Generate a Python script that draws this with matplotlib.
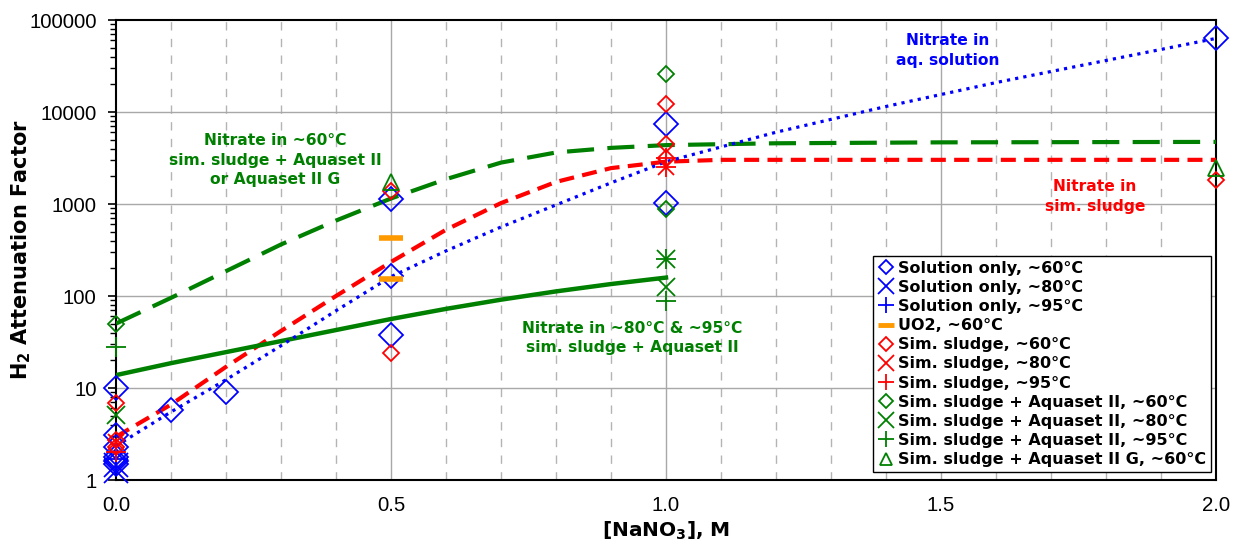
import numpy as np
import matplotlib
matplotlib.use("Agg")
import matplotlib.pyplot as plt
from matplotlib.lines import Line2D

# ---------------- data ----------------
# Solution only
sol60_x = [0, 0, 0, 0, 0, 0, 0.1, 0.2, 0.5, 0.5, 0.5, 1.0, 1.0, 2.0]
sol60_y = [10, 3.1, 2.3, 1.8, 1.6, 1.5, 5.8, 9.0, 1140, 165, 37.8, 7400, 1030, 63500]
sol80_x = [0, 0]
sol80_y = [1.25, 1.45]
sol95_x = [0]
sol95_y = [1.7]
# UO2
uo2_x = [0.5, 0.5]
uo2_y = [427, 153]
# Simulated sludge
sl60_x = [0, 0, 0, 0.5, 0.5, 1.0, 1.0, 1.0, 2.0]
sl60_y = [6.9, 2.7, 2.3, 24, 1390, 12100, 4520, 3200, 1830]
sl80_x = [0, 1.0]
sl80_y = [2.6, 2540]
sl95_x = [0, 1.0, 1.0]
sl95_y = [2.0, 3200, 2540]
# Simulated sludge + Aquaset II
aq60_x = [0, 1.0, 1.0]
aq60_y = [50, 25800, 880]
aq80_x = [0, 1.0, 1.0]
aq80_y = [5.1, 253, 125]
aq95_x = [0, 1.0, 1.0]
aq95_y = [28, 253, 88]
aqg60_x = [0.5, 2.0]
aqg60_y = [1740, 2480]

# fitted trend curves (log10 of attenuation factor)
aq_curve_x = [0, 0.1, 0.2, 0.3, 0.4, 0.5, 0.6, 0.7, 0.8, 0.9, 1.0, 1.2, 1.5, 2.0]
aq_curve_log = [1.70, 1.98, 2.27, 2.56, 2.82, 3.06, 3.27, 3.45, 3.56, 3.61, 3.64, 3.66, 3.67, 3.675]
sl_curve_x = [0, 0.1, 0.2, 0.3, 0.4, 0.5, 0.6, 0.7, 0.8, 0.9, 1.0, 1.1, 1.2, 2.0]
sl_curve_log = [0.47, 0.82, 1.23, 1.62, 2.00, 2.37, 2.72, 3.01, 3.24, 3.39, 3.46, 3.48, 3.48, 3.48]
aqhot_curve_x = [0, 0.1, 0.2, 0.3, 0.4, 0.5, 0.6, 0.7, 0.8, 0.9, 1.0]
aqhot_curve_log = [1.14, 1.27, 1.39, 1.51, 1.63, 1.75, 1.86, 1.96, 2.05, 2.13, 2.20]
sol_curve_x = [0, 0.1, 0.2, 0.3, 0.4, 0.5, 0.6, 0.7, 0.8, 0.9, 1.0, 1.2, 1.4, 1.6, 1.8, 2.0]
sol_curve_log = [0.37, 0.74, 1.09, 1.46, 1.84, 2.21, 2.49, 2.75, 2.99, 3.23, 3.46, 3.78, 4.06, 4.32, 4.56, 4.80]

x_ticks = [0.0, 0.5, 1.0, 1.5, 2.0]
x_ticklabels = ["0.0", "0.5", "1.0", "1.5", "2.0"]
y_ticks = [1, 10, 100, 1000, 10000, 100000]
y_ticklabels = ["1", "10", "100", "1000", "10000", "100000"]

legend_labels = [
    "Solution only, ~60°C", "Solution only, ~80°C", "Solution only, ~95°C",
    "UO2, ~60°C", "Sim. sludge, ~60°C", "Sim. sludge, ~80°C", "Sim. sludge, ~95°C",
    "Sim. sludge + Aquaset II, ~60°C", "Sim. sludge + Aquaset II, ~80°C",
    "Sim. sludge + Aquaset II, ~95°C", "Sim. sludge + Aquaset II G, ~60°C",
]

BLUE = "#0000FF"
RED = "#FF0000"
GREEN = "#008000"
ORANGE = "#FF9900"

plt.rcParams["font.family"] = ["DejaVu Sans"]
plt.rcParams["mathtext.fontset"] = "dejavusans"

fig = plt.figure(figsize=(12.35, 5.5), dpi=100)
ax = fig.add_axes([116 / 1235, 1 - 480 / 550, 1100 / 1235, 460 / 550])
ax.set_yscale("log")
ax.set_xlim(0, 2.0)
ax.set_ylim(1, 100000)

# grid
for xv in np.arange(0.1, 2.0, 0.1):
    if abs(xv * 2 - round(xv * 2)) < 1e-6:
        continue
    ax.axvline(xv, color="#b4b4b4", lw=1.0, ls=(0, (6, 6)), zorder=0)
for xv in [0.5, 1.0, 1.5]:
    ax.axvline(xv, color="#a8a8a8", lw=1.0, zorder=0)
for yv in [10, 100, 1000, 10000]:
    ax.axhline(yv, color="#a8a8a8", lw=1.0, zorder=0)

# curves
ax.plot(aq_curve_x, 10 ** np.array(aq_curve_log), color=GREEN, lw=3.0,
        ls=(0, (6.5, 3.2)), zorder=3)
ax.plot(sl_curve_x, 10 ** np.array(sl_curve_log), color=RED, lw=3.0,
        ls=(0, (3.6, 2.0)), zorder=3)
ax.plot(aqhot_curve_x, 10 ** np.array(aqhot_curve_log), color=GREEN, lw=3.2,
        ls="-", zorder=3)
ax.plot(sol_curve_x, 10 ** np.array(sol_curve_log), color=BLUE, lw=2.3,
        ls=(0, (1, 1.6)), zorder=3)

kw = dict(ls="none", mfc="none", clip_on=False, zorder=4)
ax.plot(sol60_x, sol60_y, marker="D", ms=12.5, mec=BLUE, mew=1.3, **kw)
ax.plot(sol80_x, sol80_y, marker="x", ms=17, mec=BLUE, mew=1.3, **kw)
ax.plot(sol95_x, sol95_y, marker="+", ms=17, mec=BLUE, mew=1.3, **kw)
ax.plot(uo2_x, uo2_y, marker="_", ms=17, mec=ORANGE, mew=4.0, **kw)
ax.plot(sl60_x, sl60_y, marker="D", ms=8.2, mec=RED, mew=1.3, **kw)
ax.plot(sl80_x, sl80_y, marker="x", ms=12, mec=RED, mew=1.3, **kw)
ax.plot(sl95_x, sl95_y, marker="+", ms=14, mec=RED, mew=1.3, **kw)
ax.plot(aq60_x, aq60_y, marker="D", ms=8.5, mec=GREEN, mew=1.3, **kw)
ax.plot(aq80_x, aq80_y, marker="x", ms=12.5, mec=GREEN, mew=1.3, **kw)
ax.plot(aq95_x, aq95_y, marker="+", ms=14, mec=GREEN, mew=1.3, **kw)
ax.plot(aqg60_x, aqg60_y, marker="^", ms=12, mec=GREEN, mew=1.3, **kw)

# annotations
tkw = dict(ha="center", va="center", fontweight="bold", fontsize=11.2,
           linespacing=1.4, zorder=5)
ax.text(1.513, 47000, "Nitrate in\naq. solution", color=BLUE, **tkw)
ax.text(0.289, 3000, "Nitrate in ~60°C\nsim. sludge + Aquaset II\nor Aquaset II G",
        color=GREEN, **tkw)
ax.text(1.78, 1195, "Nitrate in\nsim. sludge", color=RED, **tkw)
ax.text(0.938, 35, "Nitrate in ~80°C & ~95°C\nsim. sludge + Aquaset II",
        color=GREEN, **tkw)

# axes styling
for sp in ax.spines.values():
    sp.set_color("black")
    sp.set_linewidth(1.5)
ax.set_xticks(x_ticks)
ax.set_xticklabels(x_ticklabels, family="Liberation Sans")
ax.set_yticks(y_ticks)
ax.set_yticklabels(y_ticklabels, family="Liberation Sans")
ax.tick_params(axis="x", length=0, labelsize=14.7, pad=11.5)
ax.tick_params(axis="y", which="major", direction="out", length=6, width=1.2,
               labelsize=14.7, pad=8)
ax.tick_params(axis="y", which="minor", direction="out", length=4, width=1.0)
ax.set_xlabel(r"[NaNO$_\mathbf{3}$], M", fontsize=14.5, fontweight="bold")
ax.xaxis.set_label_coords(0.5, -0.087)
ax.set_ylabel(r"H$_\mathbf{2}$ Attenuation Factor", fontsize=15, fontweight="bold")
ax.yaxis.set_label_coords(-0.075, 0.5)

# legend
handles = [
    Line2D([], [], ls="none", marker="D", ms=7.5, mfc="none", mec=BLUE, mew=1.3),
    Line2D([], [], ls="none", marker="x", ms=11, mfc="none", mec=BLUE, mew=1.3),
    Line2D([], [], ls="none", marker="+", ms=11, mfc="none", mec=BLUE, mew=1.3),
    Line2D([], [], ls="none", marker="_", ms=11, mec=ORANGE, mew=3.5),
    Line2D([], [], ls="none", marker="D", ms=7.5, mfc="none", mec=RED, mew=1.3),
    Line2D([], [], ls="none", marker="x", ms=11, mfc="none", mec=RED, mew=1.3),
    Line2D([], [], ls="none", marker="+", ms=11, mfc="none", mec=RED, mew=1.3),
    Line2D([], [], ls="none", marker="D", ms=7.5, mfc="none", mec=GREEN, mew=1.3),
    Line2D([], [], ls="none", marker="x", ms=11, mfc="none", mec=GREEN, mew=1.3),
    Line2D([], [], ls="none", marker="+", ms=11, mfc="none", mec=GREEN, mew=1.3),
    Line2D([], [], ls="none", marker="^", ms=9, mfc="none", mec=GREEN, mew=1.3),
]
leg = ax.legend(handles, legend_labels, loc="lower right",
                bbox_to_anchor=(0.9955, 0.0174), frameon=True, fancybox=False,
                edgecolor="black", framealpha=1, borderpad=0.3, labelspacing=0.26,
                handlelength=1.0, handletextpad=0.25, borderaxespad=0,
                prop=dict(weight="bold", size=11.5))
leg.get_frame().set_linewidth(1.0)
leg.set_zorder(6)

fig.savefig("out.png", dpi=100)
